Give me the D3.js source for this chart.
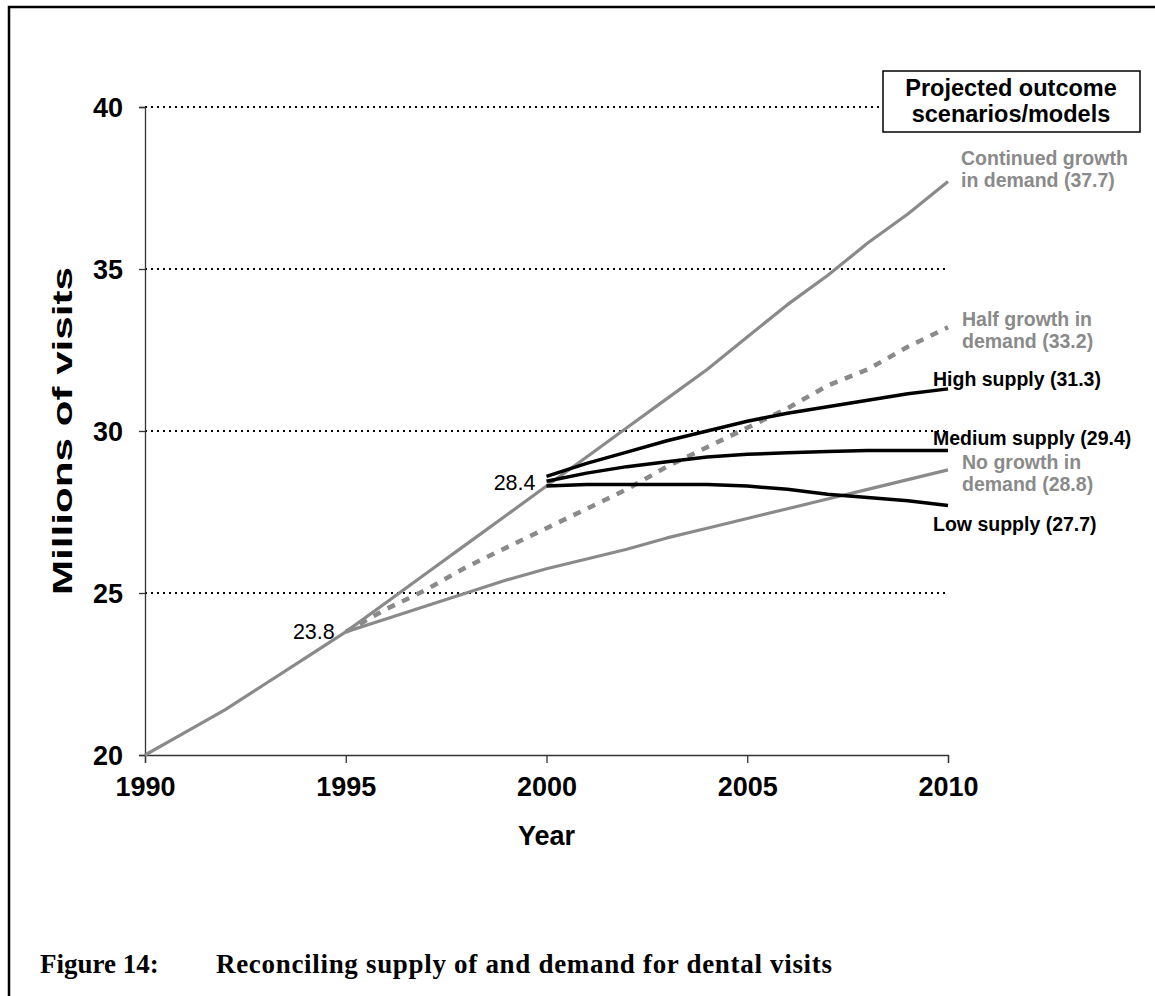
<!DOCTYPE html>
<html lang="en">
<head>
<meta charset="UTF-8">
<title>Reconciling supply of and demand for dental visits</title>
<script src="https://d3js.org/d3.v7.min.js"></script>
<style>
  body { margin: 0; background: #fff; }
  svg { display: block; }
  .tick text { font-family: "Liberation Sans", Arial, sans-serif; font-weight: bold; }
</style>
</head>
<body>
<div id="chart"></div>
<script>
// Years and values
const demandYears = [1990, 1991, 1992, 1993, 1994, 1995, 1996, 1997, 1998, 1999, 2000,
                     2001, 2002, 2003, 2004, 2005, 2006, 2007, 2008, 2009, 2010];
const continuedGrowth = [20.0, 20.7, 21.4, 22.2, 23.0, 23.8, 24.7, 25.6, 26.5, 27.4, 28.3,
                         29.2, 30.1, 31.0, 31.9, 32.9, 33.9, 34.8, 35.8, 36.7, 37.7];

const scenarioYears = [1995, 1996, 1997, 1998, 1999, 2000, 2001, 2002, 2003, 2004, 2005,
                       2006, 2007, 2008, 2009, 2010];
const halfGrowth = [23.8, 24.5, 25.1, 25.8, 26.4, 27.0, 27.6, 28.2, 28.9, 29.5, 30.1,
                    30.7, 31.4, 31.9, 32.6, 33.2];
const noGrowth   = [23.8, 24.2, 24.6, 25.0, 25.4, 25.75, 26.05, 26.35, 26.7, 27.0, 27.3,
                    27.6, 27.9, 28.2, 28.5, 28.8];

const supplyYears = [2000, 2001, 2002, 2003, 2004, 2005, 2006, 2007, 2008, 2009, 2010];
const highSupply   = [28.6, 29.0, 29.35, 29.7, 30.0, 30.3, 30.55, 30.75, 30.95, 31.15, 31.3];
const mediumSupply = [28.45, 28.7, 28.9, 29.05, 29.2, 29.28, 29.33, 29.37, 29.4, 29.4, 29.4];
const lowSupply    = [28.3, 28.35, 28.35, 28.35, 28.35, 28.3, 28.2, 28.05, 27.95, 27.85, 27.7];

const xTicks = [1990, 1995, 2000, 2005, 2010];
const yTicks = [20, 25, 30, 35, 40];
const gridValues = [25, 30, 35, 40];

const W = 1155, H = 996;
const margin = {left: 145, top: 107, right: W - 948, bottom: H - 755};
const width = W - margin.left - margin.right;
const height = H - margin.top - margin.bottom;

const grey = '#8a8a8a';
const sans = '"Liberation Sans", Arial, sans-serif';

const svg = d3.select('#chart').append('svg')
    .attr('width', W)
    .attr('height', H);

// frame round the figure (only left and top edges fall inside the page)
svg.append('path')
    .attr('d', `M9,${H} L9,7 L${W},7`)
    .attr('fill', 'none')
    .attr('stroke', '#000')
    .attr('stroke-width', 2.5);

const g = svg.append('g')
    .attr('transform', `translate(${margin.left},${margin.top})`);

const x = d3.scaleLinear().domain([1990, 2010]).range([0, width]);
const y = d3.scaleLinear().domain([20, 40]).range([height, 0]);

// dotted gridlines
g.selectAll('.grid')
    .data(gridValues)
    .enter().append('line')
    .attr('class', 'grid')
    .attr('x1', 0)
    .attr('x2', width)
    .attr('y1', d => y(d))
    .attr('y2', d => y(d))
    .attr('stroke', '#000')
    .attr('stroke-width', 2)
    .attr('stroke-dasharray', '2,4');

// axes
const xAxis = g.append('g')
    .attr('transform', `translate(0,${height})`)
    .call(d3.axisBottom(x).tickValues(xTicks).tickFormat(d3.format('d')).tickSize(8).tickPadding(14));
const yAxis = g.append('g')
    .call(d3.axisLeft(y).tickValues(yTicks).tickSize(6).tickPadding(16));

[xAxis, yAxis].forEach(a => {
    a.select('.domain').attr('stroke', '#333').attr('stroke-width', 1.3);
    a.selectAll('.tick line').attr('stroke', '#333').attr('stroke-width', 1.3);
    a.selectAll('.tick text').attr('font-size', 27).attr('fill', '#000');
});
yAxis.selectAll('.tick text').attr('dy', '0.36em');

// axis titles
svg.append('text')
    .attr('x', margin.left + width / 2)
    .attr('y', 845)
    .attr('text-anchor', 'middle')
    .attr('font-family', sans)
    .attr('font-weight', 'bold')
    .attr('font-size', 27)
    .text('Year');

// the y title is drawn stretched along the axis in the original
svg.append('text')
    .attr('transform', `translate(72,${margin.top + height / 2}) rotate(-90)`)
    .attr('text-anchor', 'middle')
    .attr('font-family', sans)
    .attr('font-weight', 'bold')
    .attr('font-size', 28)
    .attr('textLength', 328)
    .attr('lengthAdjust', 'spacingAndGlyphs')
    .text('Millions of visits');

// series
const line = d3.line()
    .x(d => x(d[0]))
    .y(d => y(d[1]));

const series = [
    {years: scenarioYears, values: noGrowth, color: grey, width: 3.2, dash: null},
    {years: scenarioYears, values: halfGrowth, color: grey, width: 4.5, dash: '8,8'},
    {years: demandYears, values: continuedGrowth, color: grey, width: 3.2, dash: null},
    {years: supplyYears, values: lowSupply, color: '#000', width: 3.5, dash: null},
    {years: supplyYears, values: mediumSupply, color: '#000', width: 3.5, dash: null},
    {years: supplyYears, values: highSupply, color: '#000', width: 3.5, dash: null}
];

g.selectAll('.series')
    .data(series)
    .enter().append('path')
    .attr('class', 'series')
    .attr('d', s => line(s.years.map((yr, i) => [yr, s.values[i]])))
    .attr('fill', 'none')
    .attr('stroke', s => s.color)
    .attr('stroke-width', s => s.width)
    .attr('stroke-dasharray', s => s.dash)
    .attr('stroke-linejoin', 'round');

// branch point labels
const branchLabels = [
    {year: 1995, value: 23.8, text: '23.8'},
    {year: 2000, value: 28.4, text: '28.4'}
];
g.selectAll('.branch')
    .data(branchLabels)
    .enter().append('text')
    .attr('class', 'branch')
    .attr('x', d => x(d.year) - 11)
    .attr('y', d => y(d.value) + 7)
    .attr('text-anchor', 'end')
    .attr('font-family', sans)
    .attr('font-size', 21.5)
    .text(d => d.text);

// end-of-line labels
const endLabels = [
    {lines: ['Continued growth', 'in demand (37.7)'], x: 961, y: 165, color: grey},
    {lines: ['Half growth in', 'demand (33.2)'], x: 962, y: 326, color: grey},
    {lines: ['High supply (31.3)'], x: 933, y: 386, color: '#000'},
    {lines: ['Medium supply (29.4)'], x: 933, y: 445, color: '#000'},
    {lines: ['No growth in', 'demand (28.8)'], x: 962, y: 469, color: grey},
    {lines: ['Low supply (27.7)'], x: 933, y: 531, color: '#000'}
];
endLabels.forEach(l => {
    const t = svg.append('text')
        .attr('x', l.x)
        .attr('y', l.y)
        .attr('font-family', sans)
        .attr('font-weight', 'bold')
        .attr('font-size', 19.5)
        .attr('fill', l.color);
    l.lines.forEach((s, i) => {
        t.append('tspan').attr('x', l.x).attr('dy', i === 0 ? 0 : 21.5).text(s);
    });
});

// legend box
svg.append('rect')
    .attr('x', 883)
    .attr('y', 71)
    .attr('width', 257)
    .attr('height', 61)
    .attr('fill', '#fff')
    .attr('stroke', '#000')
    .attr('stroke-width', 1.5);
const legendText = svg.append('text')
    .attr('x', 1011)
    .attr('y', 96)
    .attr('text-anchor', 'middle')
    .attr('font-family', sans)
    .attr('font-weight', 'bold')
    .attr('font-size', 23.5);
['Projected outcome', 'scenarios/models'].forEach((s, i) => {
    legendText.append('tspan').attr('x', 1011).attr('dy', i === 0 ? 0 : 26).text(s);
});

// caption
const caption = svg.append('text')
    .attr('y', 973)
    .attr('font-family', '"Liberation Serif", "Times New Roman", serif')
    .attr('font-weight', 'bold')
    .attr('font-size', 27);
caption.append('tspan').attr('x', 40).text('Figure 14:');
caption.append('tspan').attr('x', 216)
    .attr('textLength', 616)
    .attr('lengthAdjust', 'spacing')
    .text('Reconciling supply of and demand for dental visits');
</script>
</body>
</html>
